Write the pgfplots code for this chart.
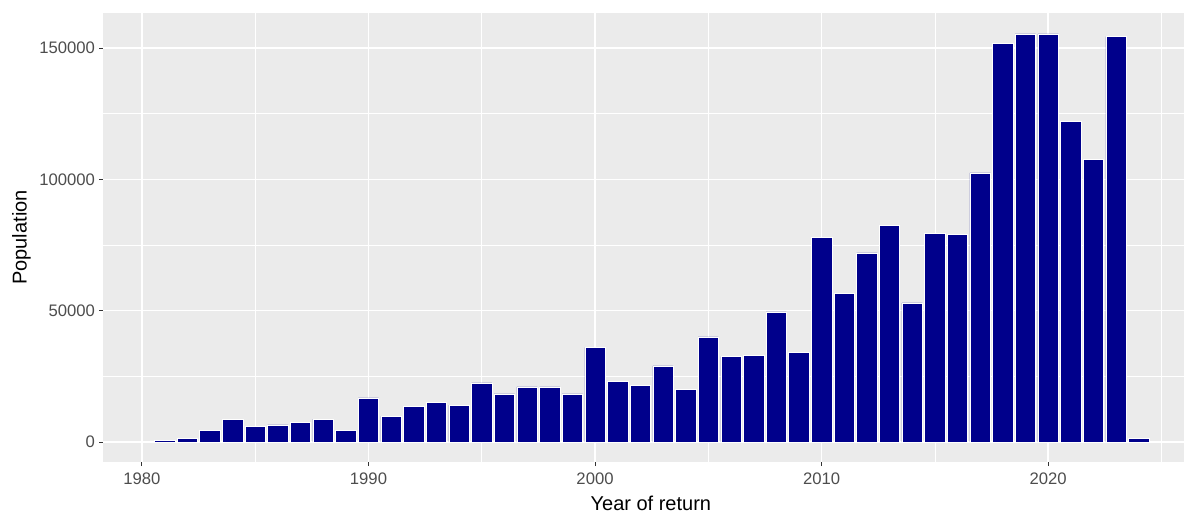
\documentclass[border=0pt]{standalone}
\usepackage{pgfplots}
\pgfplotsset{compat=1.18}
\usepackage{fontspec}
\setmainfont{Liberation Sans}
\definecolor{panelbg}{HTML}{EBEBEB}
\definecolor{ticktext}{HTML}{4D4D4D}
\definecolor{tickcol}{HTML}{333333}
\definecolor{barblue}{HTML}{00008B}

\begin{document}
\begin{tikzpicture}
\begin{axis}[
    name=ax,
    scale only axis,
    width=810.75pt, height=336.75pt,
    xmin=1978.28, xmax=2026.0,
    ymin=-7614, ymax=163325,
    axis background/.style={fill=panelbg},
    axis line style={draw=none},
    xtick={1980,1990,2000,2010,2020},
    minor xtick={1985,1995,2005,2015,2025},
    ytick={0,50000,100000,150000},
    minor ytick={25000,75000,125000},
    scaled y ticks=false,
    grid=both,
    major grid style={white, line width=0.9pt},
    minor grid style={white, line width=0.45pt},
    tick align=outside,
    major tick length=3pt,
    minor tick length=0pt,
    tick style={tickcol, line width=0.7pt},
    xtick pos=bottom, ytick pos=left,
    /pgf/number format/fixed,
    /pgf/number format/precision=0,
    /pgf/number format/assume math mode=true,
    /pgf/number format/1000 sep={},
    tick label style={font=\fontsize{12.5}{14}\selectfont, text=ticktext},
    xticklabel style={yshift=-1.5pt},
    yticklabel style={xshift=0.5pt},
    label style={font=\fontsize{15}{17}\selectfont},
    xlabel={Year of return},
    ylabel={Population},
    xlabel style={yshift=-1.5pt, xshift=5.5pt},
    ylabel style={yshift=-0.5pt},
    ybar, bar width=0.9,
]
\addplot[fill=barblue, draw=white, line width=0.35pt] coordinates {
    (1981,700) (1982,1500) (1983,4500) (1984,8700) (1985,6000)
    (1986,6500) (1987,7500) (1988,8700) (1989,4300) (1990,16800)
    (1991,9800) (1992,13500) (1993,15000) (1994,14000) (1995,22500)
    (1996,18300) (1997,21000) (1998,21000) (1999,18300) (2000,36000)
    (2001,23000) (2002,21500) (2003,29000) (2004,20000) (2005,40000)
    (2006,32500) (2007,33000) (2008,49500) (2009,34000) (2010,78000)
    (2011,56500) (2012,72000) (2013,82500) (2014,53000) (2015,79500)
    (2016,79000) (2017,102500) (2018,151800) (2019,155400) (2020,155400)
    (2021,122000) (2022,107500) (2023,154300) (2024,1500)
};
\end{axis}
\pgfresetboundingbox
\path[use as bounding box] ([xshift=-77.25pt,yshift=-39pt]ax.south west) rectangle ([yshift=9.75pt]ax.north east);
\end{tikzpicture}
\end{document}
